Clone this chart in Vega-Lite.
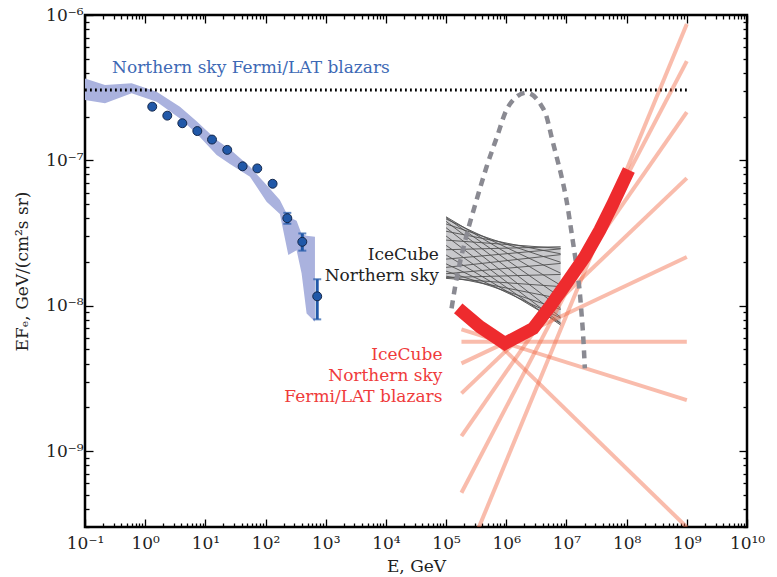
{
  "$schema": "https://vega.github.io/schema/vega-lite/v6.json",
  "width": 662,
  "height": 512,
  "autosize": {"type": "none"},
  "padding": {"left": 85, "top": 15, "right": 30, "bottom": 50},
  "background": "white",
  "config": {
    "view": {"stroke": "black", "strokeWidth": 2.5},
    "axis": {"domain": false, "grid": false, "labelFont": "DejaVu Serif", "labelFontSize": 17, "labelColor": "#222222",
      "titleFont": "DejaVu Serif", "titleFontSize": 17, "titleFontWeight": "normal", "titleColor": "#222222",
      "tickColor": "black", "tickWidth": 1.3, "labelOverlap": false, "labelBound": false, "labelFlush": false}
  },
  "datasets": {
    "fermiBand": [
      {"E": 0.1, "lo": 2.60e-7, "hi": 3.66e-7},
      {"E": 0.215, "lo": 2.47e-7, "hi": 3.30e-7},
      {"E": 0.596, "lo": 2.89e-7, "hi": 3.39e-7},
      {"E": 1.55, "lo": 2.53e-7, "hi": 2.97e-7},
      {"E": 3.78, "lo": 1.94e-7, "hi": 2.34e-7},
      {"E": 7.16, "lo": 1.53e-7, "hi": 1.86e-7},
      {"E": 15.4, "lo": 1.09e-7, "hi": 1.38e-7},
      {"E": 25.6, "lo": 9.43e-8, "hi": 1.19e-7},
      {"E": 55.1, "lo": 7.71e-8, "hi": 9.04e-8},
      {"E": 104, "lo": 5.19e-8, "hi": 6.76e-8},
      {"E": 173, "lo": 4.27e-8, "hi": 5.33e-8},
      {"E": 239, "lo": 2.23e-8, "hi": 4.09e-8},
      {"E": 328, "lo": 2.41e-8, "hi": 3.84e-8},
      {"E": 397, "lo": 1.67e-8, "hi": 3.11e-8},
      {"E": 481, "lo": 8.85e-9, "hi": 3.03e-8},
      {"E": 662, "lo": 7.75e-9, "hi": 2.98e-8}
    ],
    "fermiPoints": [
      {"E": 1.31, "F": 2.34e-7},
      {"E": 2.33, "F": 2.03e-7},
      {"E": 4.14, "F": 1.80e-7},
      {"E": 7.35, "F": 1.59e-7},
      {"E": 12.9, "F": 1.39e-7},
      {"E": 23.1, "F": 1.18e-7},
      {"E": 41.6, "F": 9.1e-8},
      {"E": 72.9, "F": 8.8e-8},
      {"E": 131, "F": 6.9e-8},
      {"E": 230, "F": 4.0e-8, "lo": 3.66e-8, "hi": 4.35e-8},
      {"E": 408, "F": 2.75e-8, "lo": 2.39e-8, "hi": 3.14e-8},
      {"E": 722, "F": 1.16e-8, "lo": 8.05e-9, "hi": 1.52e-8}
    ],
    "errCaps": [
      {"E": 230, "F": 3.66e-8}, {"E": 230, "F": 4.35e-8},
      {"E": 408, "F": 2.39e-8}, {"E": 408, "F": 3.14e-8},
      {"E": 722, "F": 8.05e-9}, {"E": 722, "F": 1.52e-8}
    ],
    "dotted": [{"E": 0.1, "F": 3.05e-7}, {"E": 1e9, "F": 3.05e-7}],
    "icBand": [
      {"E": 1e5, "lo": 1.540e-8, "hi": 4.09e-8},
      {"E": 2.40e5, "lo": 1.484e-8, "hi": 3.331e-8},
      {"E": 5.77e5, "lo": 1.354e-8, "hi": 2.862e-8},
      {"E": 1.386e6, "lo": 1.156e-8, "hi": 2.632e-8},
      {"E": 3.33e6, "lo": 9.36e-9, "hi": 2.549e-8},
      {"E": 8e6, "lo": 7.35e-9, "hi": 2.544e-8}
    ],
    "icLines": [
      {"id": 0, "E": 1e5, "F": 1.728e-8}, {"id": 0, "E": 8e6, "F": 9.41e-9},
      {"id": 1, "E": 1e5, "F": 1.940e-8}, {"id": 1, "E": 8e6, "F": 8.23e-9},
      {"id": 2, "E": 1e5, "F": 2.232e-8}, {"id": 2, "E": 8e6, "F": 7.55e-9},
      {"id": 3, "E": 1e5, "F": 2.599e-8}, {"id": 3, "E": 8e6, "F": 7.35e-9},
      {"id": 4, "E": 1e5, "F": 3.017e-8}, {"id": 4, "E": 8e6, "F": 7.60e-9},
      {"id": 5, "E": 1e5, "F": 3.439e-8}, {"id": 5, "E": 8e6, "F": 8.33e-9},
      {"id": 6, "E": 1e5, "F": 3.802e-8}, {"id": 6, "E": 8e6, "F": 9.59e-9},
      {"id": 7, "E": 1e5, "F": 4.033e-8}, {"id": 7, "E": 8e6, "F": 1.141e-8},
      {"id": 8, "E": 1e5, "F": 4.089e-8}, {"id": 8, "E": 8e6, "F": 1.383e-8},
      {"id": 9, "E": 1e5, "F": 3.949e-8}, {"id": 9, "E": 8e6, "F": 1.674e-8},
      {"id": 10, "E": 1e5, "F": 3.650e-8}, {"id": 10, "E": 8e6, "F": 1.989e-8},
      {"id": 11, "E": 1e5, "F": 3.252e-8}, {"id": 11, "E": 8e6, "F": 2.275e-8},
      {"id": 12, "E": 1e5, "F": 2.825e-8}, {"id": 12, "E": 8e6, "F": 2.478e-8},
      {"id": 13, "E": 1e5, "F": 2.427e-8}, {"id": 13, "E": 8e6, "F": 2.544e-8},
      {"id": 14, "E": 1e5, "F": 2.091e-8}, {"id": 14, "E": 8e6, "F": 2.459e-8},
      {"id": 15, "E": 1e5, "F": 1.834e-8}, {"id": 15, "E": 8e6, "F": 2.245e-8},
      {"id": 16, "E": 1e5, "F": 1.659e-8}, {"id": 16, "E": 8e6, "F": 1.953e-8},
      {"id": 17, "E": 1e5, "F": 1.563e-8}, {"id": 17, "E": 8e6, "F": 1.640e-8},
      {"id": 18, "E": 1e5, "F": 1.541e-8}, {"id": 18, "E": 8e6, "F": 1.352e-8},
      {"id": 19, "E": 1e5, "F": 1.596e-8}, {"id": 19, "E": 8e6, "F": 1.117e-8}
    ],
    "hump": [
      {"E": 1.233e5, "F": 9.57e-9},
      {"E": 1.40e5, "F": 1.32e-8},
      {"E": 2.19e5, "F": 3.06e-8},
      {"E": 3.21e5, "F": 5.33e-8},
      {"E": 4.71e5, "F": 9.03e-8},
      {"E": 7.33e5, "F": 1.53e-7},
      {"E": 9.48e5, "F": 2.10e-7},
      {"E": 1.30e6, "F": 2.60e-7},
      {"E": 2.17e6, "F": 2.92e-7},
      {"E": 3.61e6, "F": 2.47e-7},
      {"E": 4.67e6, "F": 2.00e-7},
      {"E": 5.65e6, "F": 1.45e-7},
      {"E": 6.85e6, "F": 1.06e-7},
      {"E": 8.30e6, "F": 7.71e-8},
      {"E": 1.00e7, "F": 5.33e-8},
      {"E": 1.22e7, "F": 3.15e-8},
      {"E": 1.47e7, "F": 1.85e-8},
      {"E": 1.67e7, "F": 1.22e-8},
      {"E": 1.78e7, "F": 8.85e-9},
      {"E": 1.90e7, "F": 6.11e-9},
      {"E": 2.02e7, "F": 3.70e-9}
    ],
    "fan": [
      {"id": "a", "E": 1.8e5, "F": 5.64e-9}, {"id": "a", "E": 1e9, "F": 5.64e-9},
      {"id": "b", "E": 1.8e5, "F": 6.87e-9}, {"id": "b", "E": 1e9, "F": 2.24e-9},
      {"id": "c", "E": 1.8e5, "F": 9.63e-9}, {"id": "c", "E": 1e9, "F": 2.99e-10},
      {"id": "d", "E": 1.8e5, "F": 4.01e-9}, {"id": "d", "E": 1e9, "F": 2.16e-8},
      {"id": "e", "E": 1.8e5, "F": 2.49e-9}, {"id": "e", "E": 1e9, "F": 7.55e-8},
      {"id": "f", "E": 1.8e5, "F": 1.266e-9}, {"id": "f", "E": 1e9, "F": 2.15e-7},
      {"id": "g", "E": 1.8e5, "F": 5.16e-10}, {"id": "g", "E": 1e9, "F": 4.82e-7},
      {"id": "h", "E": 1.8e5, "F": 1.53e-10}, {"id": "h", "E": 1e9, "F": 8.67e-7}
    ],
    "redLimit": [
      {"E": 1.59e5, "F": 9.58e-9},
      {"E": 3.64e5, "F": 7.16e-9},
      {"E": 9.48e5, "F": 5.50e-9},
      {"E": 2.80e6, "F": 6.98e-9},
      {"E": 5.30e6, "F": 9.83e-9},
      {"E": 1.00e7, "F": 1.424e-8},
      {"E": 2.02e7, "F": 2.17e-8},
      {"E": 3.59e7, "F": 3.31e-8},
      {"E": 5.97e7, "F": 5.06e-8},
      {"E": 1.09e8, "F": 8.57e-8}
    ],
    "labels": [
      {"E": 1.16e4, "F": 4.32e-7, "text": "Northern sky Fermi/LAT blazars", "kind": "fermi"},
      {"E": 7.6e4, "F": 2.23e-8, "text": "IceCube\nNorthern sky", "kind": "ic"},
      {"E": 8.7e4, "F": 4.57e-9, "text": "IceCube\nNorthern sky\nFermi/LAT blazars", "kind": "limit"}
    ]
  },
  "resolve": {"axis": {"x": "independent", "y": "independent"}},
  "layer": [
    {
      "data": {"name": "fermiBand"},
      "mark": {"type": "area", "color": "#aab2de", "clip": true},
      "encoding": {
        "x": {"field": "E", "type": "quantitative", "scale": {"type": "log", "domain": [0.1, 1e10], "nice": false},
          "axis": {"orient": "bottom", "title": "E, GeV", "titlePadding": 3, "labelPadding": 16,
            "values": [0.1,0.2,0.3,0.4,0.5,0.6,0.7,0.8,0.9,1,2,3,4,5,6,7,8,9,10,20,30,40,50,60,70,80,90,100,200,300,400,500,600,700,800,900,1000,2000,3000,4000,5000,6000,7000,8000,9000,1e4,2e4,3e4,4e4,5e4,6e4,7e4,8e4,9e4,1e5,2e5,3e5,4e5,5e5,6e5,7e5,8e5,9e5,1e6,2e6,3e6,4e6,5e6,6e6,7e6,8e6,9e6,1e7,2e7,3e7,4e7,5e7,6e7,7e7,8e7,9e7,1e8,2e8,3e8,4e8,5e8,6e8,7e8,8e8,9e8,1e9,2e9,3e9,4e9,5e9,6e9,7e9,8e9,9e9,1e10],
            "labelExpr": "abs(log(datum.value)/LN10 - round(log(datum.value)/LN10)) > 0.001 ? '' : ['10⁻¹','10⁰','10¹','10²','10³','10⁴','10⁵','10⁶','10⁷','10⁸','10⁹','10¹⁰'][round(log(datum.value)/LN10)+1]",
            "tickSize": {"condition": {"test": "abs(log(datum.value)/LN10 - round(log(datum.value)/LN10)) < 0.001", "value": -8}, "value": -4}}},
        "y": {"field": "lo", "type": "quantitative", "scale": {"type": "log", "domain": [3e-10, 1e-6], "nice": false},
          "axis": {"orient": "left", "title": "EFₑ, GeV/(cm²s sr)", "labelPadding": 10, "titlePadding": 14,
            "values": [3e-10,4e-10,5e-10,6e-10,7e-10,8e-10,9e-10,1e-9,2e-9,3e-9,4e-9,5e-9,6e-9,7e-9,8e-9,9e-9,1e-8,2e-8,3e-8,4e-8,5e-8,6e-8,7e-8,8e-8,9e-8,1e-7,2e-7,3e-7,4e-7,5e-7,6e-7,7e-7,8e-7,9e-7,1e-6],
            "labelExpr": "abs(log(datum.value)/LN10 - round(log(datum.value)/LN10)) > 0.001 ? '' : ['10⁻⁹','10⁻⁸','10⁻⁷','10⁻⁶'][round(log(datum.value)/LN10)+9]",
            "tickSize": {"condition": {"test": "abs(log(datum.value)/LN10 - round(log(datum.value)/LN10)) < 0.001", "value": -8}, "value": -4}}},
        "y2": {"field": "hi"}
      }
    },
    {
      "data": {"name": "dotted"},
      "mark": {"type": "line", "color": "black", "strokeWidth": 3, "strokeDash": [1.8, 3.2], "clip": true},
      "encoding": {
        "x": {"field": "E", "type": "quantitative", "scale": {"type": "log", "domain": [0.1, 1e10], "nice": false},
          "axis": {"orient": "top", "title": null, "labels": false,
            "values": [0.1,0.2,0.3,0.4,0.5,0.6,0.7,0.8,0.9,1,2,3,4,5,6,7,8,9,10,20,30,40,50,60,70,80,90,100,200,300,400,500,600,700,800,900,1000,2000,3000,4000,5000,6000,7000,8000,9000,1e4,2e4,3e4,4e4,5e4,6e4,7e4,8e4,9e4,1e5,2e5,3e5,4e5,5e5,6e5,7e5,8e5,9e5,1e6,2e6,3e6,4e6,5e6,6e6,7e6,8e6,9e6,1e7,2e7,3e7,4e7,5e7,6e7,7e7,8e7,9e7,1e8,2e8,3e8,4e8,5e8,6e8,7e8,8e8,9e8,1e9,2e9,3e9,4e9,5e9,6e9,7e9,8e9,9e9,1e10],
            "tickSize": {"condition": {"test": "abs(log(datum.value)/LN10 - round(log(datum.value)/LN10)) < 0.001", "value": -8}, "value": -4}}},
        "y": {"field": "F", "type": "quantitative", "scale": {"type": "log", "domain": [3e-10, 1e-6], "nice": false},
          "axis": {"orient": "right", "title": null, "labels": false,
            "values": [3e-10,4e-10,5e-10,6e-10,7e-10,8e-10,9e-10,1e-9,2e-9,3e-9,4e-9,5e-9,6e-9,7e-9,8e-9,9e-9,1e-8,2e-8,3e-8,4e-8,5e-8,6e-8,7e-8,8e-8,9e-8,1e-7,2e-7,3e-7,4e-7,5e-7,6e-7,7e-7,8e-7,9e-7,1e-6],
            "tickSize": {"condition": {"test": "abs(log(datum.value)/LN10 - round(log(datum.value)/LN10)) < 0.001", "value": -8}, "value": -4}}}
      }
    },
    {
      "data": {"name": "icBand"},
      "mark": {"type": "area", "color": "#c9c9cc", "clip": true},
      "encoding": {
        "x": {"field": "E", "type": "quantitative", "scale": {"type": "log"}, "axis": null},
        "y": {"field": "lo", "type": "quantitative", "scale": {"type": "log"}, "axis": null},
        "y2": {"field": "hi"}
      }
    },
    {
      "data": {"name": "icLines"},
      "mark": {"type": "line", "color": "#505050", "strokeWidth": 0.9, "clip": true},
      "encoding": {
        "x": {"field": "E", "type": "quantitative", "scale": {"type": "log"}, "axis": null},
        "y": {"field": "F", "type": "quantitative", "scale": {"type": "log"}, "axis": null},
        "detail": {"field": "id", "type": "nominal"}
      }
    },
    {
      "data": {"name": "fan"},
      "mark": {"type": "line", "color": "#f26a48", "opacity": 0.45, "strokeWidth": 4, "clip": true},
      "encoding": {
        "x": {"field": "E", "type": "quantitative", "scale": {"type": "log"}, "axis": null},
        "y": {"field": "F", "type": "quantitative", "scale": {"type": "log"}, "axis": null},
        "detail": {"field": "id", "type": "nominal"}
      }
    },
    {
      "data": {"name": "hump"},
      "mark": {"type": "line", "color": "#8a8a92", "strokeWidth": 4.5, "strokeDash": [8, 6], "interpolate": "monotone", "clip": true},
      "encoding": {
        "x": {"field": "E", "type": "quantitative", "scale": {"type": "log"}, "axis": null},
        "y": {"field": "F", "type": "quantitative", "scale": {"type": "log"}, "axis": null}
      }
    },
    {
      "data": {"name": "redLimit"},
      "mark": {"type": "line", "color": "#ee2b2e", "strokeWidth": 13, "strokeCap": "butt", "strokeJoin": "miter", "clip": true},
      "encoding": {
        "x": {"field": "E", "type": "quantitative", "scale": {"type": "log"}, "axis": null},
        "y": {"field": "F", "type": "quantitative", "scale": {"type": "log"}, "axis": null}
      }
    },
    {
      "data": {"name": "fermiPoints"},
      "mark": {"type": "rule", "color": "#2158a8", "strokeWidth": 3},
      "encoding": {
        "x": {"field": "E", "type": "quantitative", "scale": {"type": "log"}, "axis": null},
        "y": {"field": "lo", "type": "quantitative", "scale": {"type": "log"}, "axis": null},
        "y2": {"field": "hi"}
      }
    },
    {
      "data": {"name": "errCaps"},
      "mark": {"type": "tick", "orient": "horizontal", "color": "#2158a8", "size": 8, "thickness": 2},
      "encoding": {
        "x": {"field": "E", "type": "quantitative", "scale": {"type": "log"}, "axis": null},
        "y": {"field": "F", "type": "quantitative", "scale": {"type": "log"}, "axis": null}
      }
    },
    {
      "data": {"name": "fermiPoints"},
      "mark": {"type": "circle", "size": 80, "color": "#2158a8", "opacity": 1, "stroke": "#14284c", "strokeWidth": 1},
      "encoding": {
        "x": {"field": "E", "type": "quantitative", "scale": {"type": "log"}, "axis": null},
        "y": {"field": "F", "type": "quantitative", "scale": {"type": "log"}, "axis": null}
      }
    },
    {
      "data": {"name": "labels"},
      "mark": {"type": "text", "align": "right", "baseline": "middle", "font": "DejaVu Serif", "fontSize": 17, "lineBreak": "\n", "lineHeight": 21},
      "encoding": {
        "x": {"field": "E", "type": "quantitative", "scale": {"type": "log"}, "axis": null},
        "y": {"field": "F", "type": "quantitative", "scale": {"type": "log"}, "axis": null},
        "text": {"field": "text"},
        "color": {"field": "kind", "type": "nominal", "scale": {"domain": ["fermi", "ic", "limit"], "range": ["#3d69b5", "#222222", "#ef3b3b"]}, "legend": null}
      }
    }
  ]
}
